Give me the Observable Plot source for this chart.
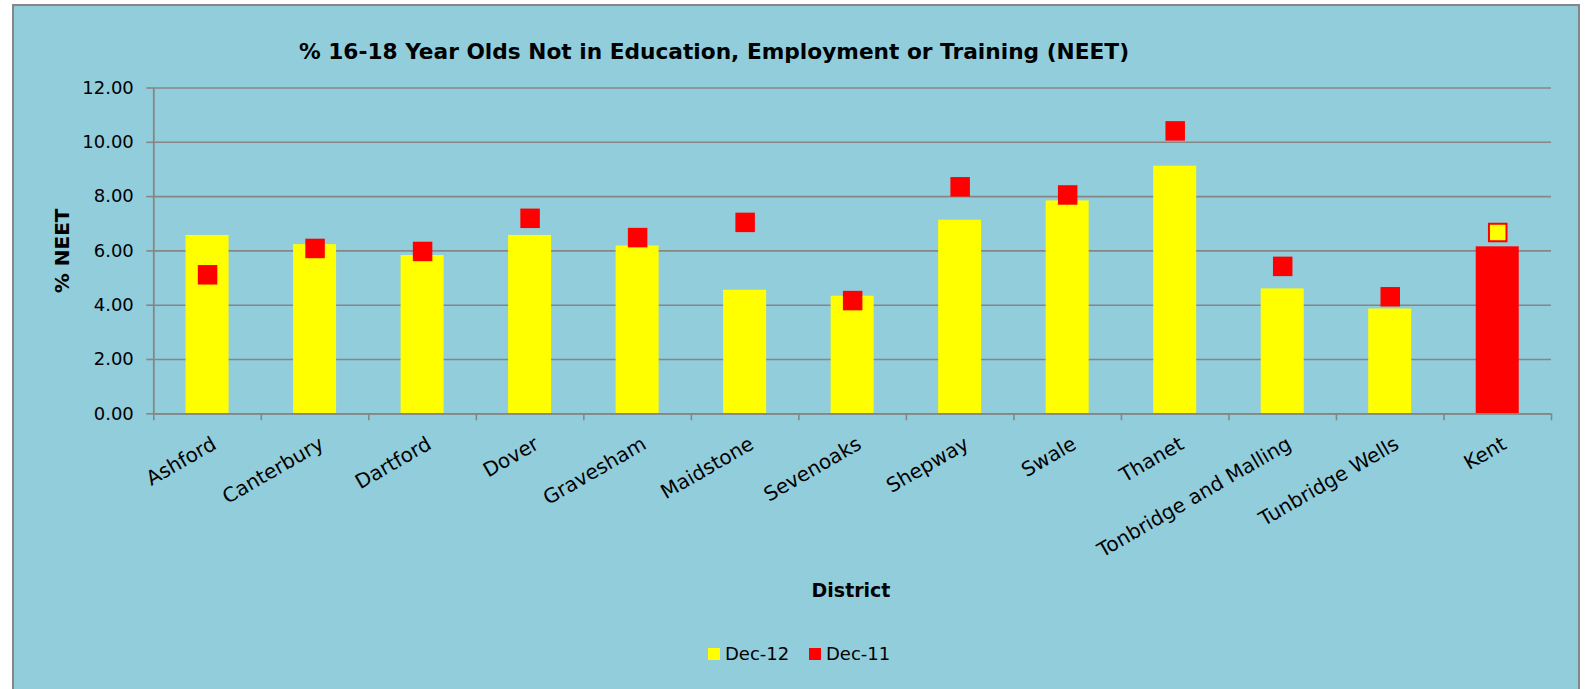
<!DOCTYPE html>
<html>
<head>
<meta charset="utf-8">
<script src="https://cdn.jsdelivr.net/npm/d3@7"></script>
<script src="https://cdn.jsdelivr.net/npm/@observablehq/plot@0.6"></script>
<style>
  html, body { margin: 0; padding: 0; background: #ffffff; width: 1585px; height: 689px; overflow: hidden; }
  body { position: relative; font-family: "DejaVu Sans", sans-serif; }
  #frame { position: absolute; left: 12px; top: 4px; width: 1568px; height: 720px; box-sizing: border-box;
           background: #92CDDC; border: 2px solid #868686; }
  #chart { position: absolute; left: 0; top: 0; }
  .title { position: absolute; left: 114px; width: 1200px; top: 41px; text-align: center;
           font-weight: bold; font-size: 21.7px; line-height: 22px; color: #000; white-space: nowrap; }
  .xlabel { position: absolute; left: 651px; width: 400px; top: 581px; text-align: center;
            font-weight: bold; font-size: 19px; line-height: 19px; color: #000; }
  .leg { position: absolute; top: 645px; height: 18px; font-size: 18px; line-height: 18px; color: #000; white-space: nowrap; }
  .leg .sw { position: absolute; left: 0; top: 2.5px; width: 12px; height: 12px; }
  .leg .lt { position: absolute; left: 17px; top: 0; }
</style>
</head>
<body>
<div id="frame"></div>
<div id="chart"></div>
<div class="title">% 16-18 Year Olds Not in Education, Employment or Training (NEET)</div>
<div class="xlabel">District</div>
<div class="leg" id="leg1" style="left:708px"><span class="sw" style="background:#FFFF00"></span><span class="lt">Dec-12</span></div>
<div class="leg" id="leg2" style="left:809px"><span class="sw" style="background:#FF0000"></span><span class="lt">Dec-11</span></div>
<script>
const districts = ["Ashford","Canterbury","Dartford","Dover","Gravesham","Maidstone","Sevenoaks","Shepway","Swale","Thanet","Tonbridge and Malling","Tunbridge Wells","Kent"];
const dec12 = [6.57, 6.23, 5.83, 6.57, 6.18, 4.55, 4.33, 7.13, 7.84, 9.12, 4.60, 3.86, 6.15];
const dec11 = [5.12, 6.09, 5.98, 7.20, 6.49, 7.05, 4.17, 8.36, 8.06, 10.42, 5.43, 4.31, 6.68];
const yTicks = [0, 2, 4, 6, 8, 10, 12];
const highlight = "Kent";

const YELLOW = "#FFFF00", RED = "#FF0000", GRAY = "#868686";
const rows = districts.map((name, i) => ({i, name, dec12: dec12[i], dec11: dec11[i]}));
const bounds = d3.range(districts.length + 1);

const plot = Plot.plot({
  width: 1585,
  height: 689,
  marginLeft: 153.3,
  marginRight: 34,
  marginTop: 87.5,
  marginBottom: 275.7,
  style: {background: "transparent", fontFamily: "DejaVu Sans, sans-serif", color: "#000", overflow: "visible"},
  x: {type: "linear", domain: [0, districts.length], axis: null},
  y: {domain: [0, 12], axis: null},
  marks: [
    Plot.gridY(yTicks, {stroke: GRAY, strokeOpacity: 1, strokeWidth: 1.6}),
    Plot.rectY(rows, {x1: d => d.i + 0.3, x2: d => d.i + 0.7, y: "dec12",
      fill: d => d.name === highlight ? RED : YELLOW}),
    Plot.ruleY([0], {stroke: GRAY, strokeWidth: 1.8}),
    Plot.ruleX([0], {stroke: GRAY, strokeWidth: 1.8}),
    Plot.axisY({ticks: yTicks, tickFormat: d3.format(".2f"), tickSize: 7, tickPadding: 13,
      fontSize: 18, label: null, stroke: GRAY, strokeWidth: 1.6, fill: "#000"}),
    Plot.axisX({ticks: bounds, tickSize: 7, tickFormat: () => "", label: null, stroke: GRAY, strokeWidth: 1.6}),
    Plot.dot(rows.filter(d => d.name !== highlight), {x: d => d.i + 0.5, y: "dec11", symbol: "square",
      r: 11, fill: RED}),
    Plot.dot(rows.filter(d => d.name === highlight), {x: d => d.i + 0.5, y: "dec11", symbol: "square",
      r: 9.9, fill: YELLOW, stroke: RED, strokeWidth: 2}),
    Plot.text(rows, {x: d => d.i + 0.5, y: 0, text: "name", rotate: -30,
      textAnchor: "end", lineAnchor: "top", dx: 3, dy: 21.7, fontSize: 20, fill: "#000"}),
    Plot.text(["% NEET"], {frameAnchor: "left", rotate: -90, dx: -91.3, textAnchor: "middle",
      lineAnchor: "middle", fontWeight: "bold", fontSize: 20, fill: "#000"})
  ]
});
document.getElementById("chart").appendChild(plot);
</script>
</body>
</html>
